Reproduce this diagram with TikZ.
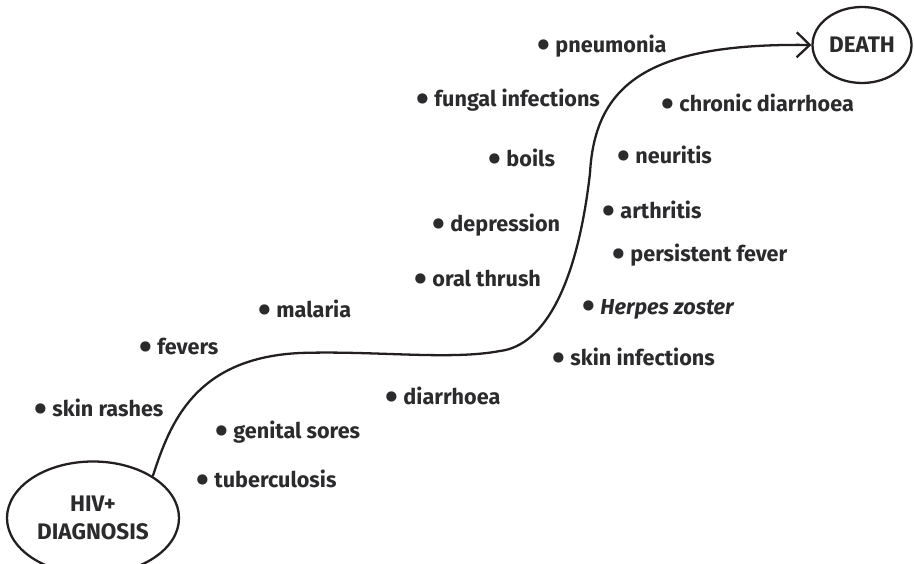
\documentclass[tikz,border=0pt]{standalone}
\usepackage{fontspec}
\setmainfont{Fira Sans}
\usepackage{xcolor}
\usetikzlibrary{arrows.meta,shapes.geometric}
\definecolor{InkColor}{HTML}{231F20}
\definecolor{TextColor}{HTML}{2B2A2C}
\tikzset{
	symptom/.style={anchor=west, inner sep=0pt, text=TextColor, font=\bfseries\fontsize{12.3}{14}\selectfont},
	stagebox/.style={ellipse, draw=InkColor, line width=1.3pt, align=center, inner sep=0pt, text=TextColor, font=\bfseries\fontsize{12.8}{16}\selectfont}
}
\newcommand{\symptom}[4]{%
	\node[symptom] (#1) at (#2,#3) {\raisebox{-0.22em}{\scalebox{1.7}{\textbullet}}\hspace{0.25em}#4};
}

\begin{document}
\begin{tikzpicture}[x=1cm,y=1cm]
	\useasboundingbox (0,0) rectangle (18.28,11.26);
	\fill[white] (0,0) rectangle (18.28,11.26);

	\node[stagebox, minimum width=3.44cm, minimum height=2.26cm] (hiv) at (1.86,0.90) {HIV+\\DIAGNOSIS};
	\node[stagebox, minimum width=1.98cm, minimum height=1.52cm] (death) at (17.24,10.36) {DEATH};

	% below the path
	\symptom{rashes}{0.68}{3.06}{skin rashes}
	\symptom{sores}{4.30}{2.62}{genital sores}
	\symptom{tb}{3.92}{1.64}{tuberculosis}
	\symptom{diarr}{7.70}{3.30}{diarrhoea}
	\symptom{skininf}{11.04}{4.08}{skin infections}
	\symptom{herpes}{11.64}{5.08}{\textit{Herpes zoster}}
	\symptom{fever}{12.24}{6.16}{persistent fever}
	\symptom{arthr}{12.04}{7.02}{arthritis}
	\symptom{neur}{12.34}{8.12}{neuritis}
	\symptom{chronic}{13.22}{9.16}{chronic diarrhoea}

	% above the path
	\symptom{fevers}{2.78}{4.28}{fevers}
	\symptom{malaria}{5.16}{5.04}{malaria}
	\symptom{thrush}{8.28}{5.64}{oral thrush}
	\symptom{depr}{8.64}{6.76}{depression}
	\symptom{boils}{9.76}{8.06}{boils}
	\symptom{fungal}{8.32}{9.26}{fungal infections}
	\symptom{pneu}{10.74}{10.34}{pneumonia}

	\coordinate (flatA) at (6.0,4.20);
	\coordinate (flatB) at (10.0,4.24);
	\coordinate (rise) at (11.8,7.80);
	\draw[-{Straight Barb[length=2.6mm,width=5mm]}, line width=1.3pt, draw=InkColor]
		(hiv.35) .. controls (3.4,2.8) and (3.9,4.1) .. (flatA)
		.. controls (7.5,4.25) and (9.0,4.05) .. (flatB)
		.. controls (10.9,4.35) and (11.55,5.6) .. (rise)
		.. controls (11.9,9.6) and (13.0,10.4) .. (death.west);
\end{tikzpicture}
\end{document}
